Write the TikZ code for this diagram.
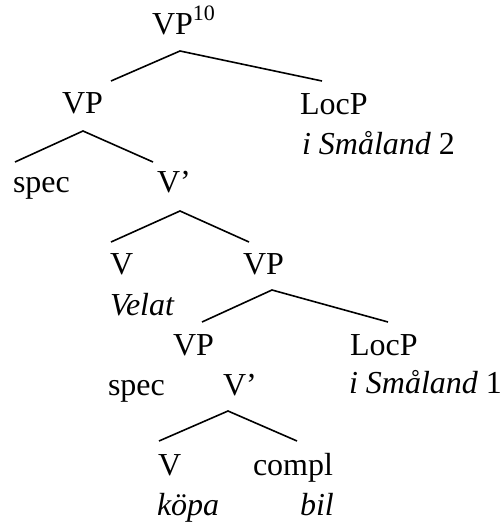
\documentclass[tikz,border=0pt]{standalone}
\usepackage{fontspec}
\setmainfont{Liberation Serif}
\newcommand{\supnum}[1]{\raisebox{7pt}{\fontsize{11}{12}\selectfont #1}}
\begin{document}
\begin{tikzpicture}[x=0.5pt,y=-0.5pt,
  lbl/.style={anchor=base west,inner sep=0pt,outer sep=0pt,font=\fontsize{16}{18}\selectfont},
  branch/.style={line width=0.8pt,line join=miter}]
\useasboundingbox (0,0) rectangle (500,523);

% labels of the tree
\node[lbl] (vpTop) at (152,35) {VP\supnum{10}};
\node[lbl] (vpA) at (62,114) {VP};
\node[lbl] (locA) at (300,115) {LocP};
\node[lbl] (smaA) at (302,155) {\textit{i Småland} 2};
\node[lbl] (specA) at (13,193) {spec};
\node[lbl] (vbarA) at (157,193) {V’};
\node[lbl] (vA) at (110,274) {V};
\node[lbl] (velat) at (110,315) {\textit{Velat}};
\node[lbl] (vpB) at (243,274) {VP};
\node[lbl] (vpC) at (173,355) {VP};
\node[lbl] (locB) at (350,355) {LocP};
\node[lbl] (smaB) at (349,393) {\textit{i Småland} 1};
\node[lbl] (specB) at (108,395) {spec};
\node[lbl] (vbarB) at (223,395) {V’};
\node[lbl] (vB) at (158,475) {V};
\node[lbl] (compl) at (253,475) {compl};
\node[lbl] (kopa) at (157,515) {\textit{köpa}};
\node[lbl] (bil) at (300,515) {\textit{bil}};

% branch points
\coordinate (vpTop-m) at (180,51);  \coordinate (vpA-t) at (111,81);  \coordinate (locA-t) at (322,81);
\coordinate (vpA-m) at (83,131);    \coordinate (specA-t) at (15,162); \coordinate (vbarA-t) at (153,162);
\coordinate (vbarA-m) at (180,211); \coordinate (vA-t) at (111,242);   \coordinate (vpB-t) at (249,242);
\coordinate (vpB-m) at (272,290);   \coordinate (vpC-t) at (202,322);  \coordinate (locB-t) at (388,322);
\coordinate (vbarB-m) at (228,411); \coordinate (vB-t) at (159,441);   \coordinate (compl-t) at (297,441);

% branches
\draw[branch] (vpA-t) -- (vpTop-m) -- (locA-t);
\draw[branch] (specA-t) -- (vpA-m) -- (vbarA-t);
\draw[branch] (vA-t) -- (vbarA-m) -- (vpB-t);
\draw[branch] (vpC-t) -- (vpB-m) -- (locB-t);
\draw[branch] (vB-t) -- (vbarB-m) -- (compl-t);
\end{tikzpicture}
\end{document}
